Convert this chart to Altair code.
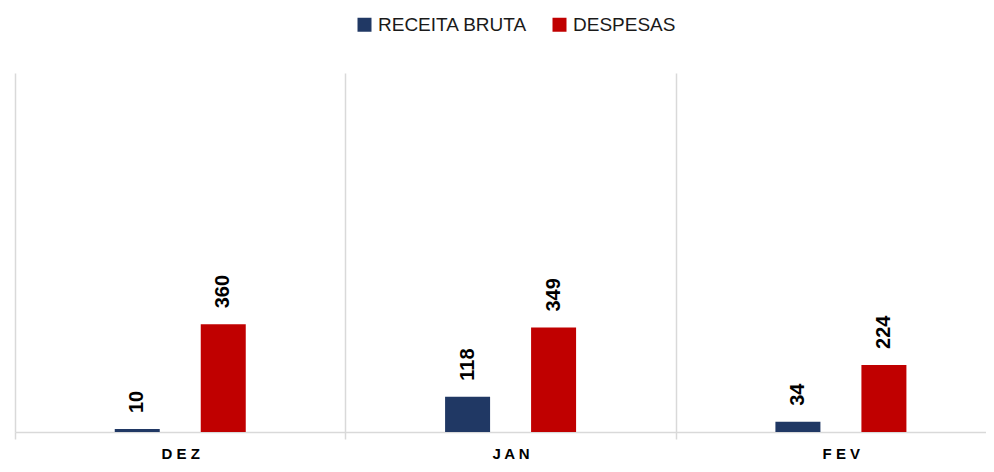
import altair as alt
import pandas as pd

months = ["DEZ", "JAN", "FEV"]
series = ["RECEITA BRUTA", "DESPESAS"]
receita = [10, 118, 34]
despesas = [360, 349, 224]
colors = ["#203864", "#C00000"]

rows = []
for i, m in enumerate(months):
    rows.append({"mes": m, "serie": series[0], "valor": receita[i]})
    rows.append({"mes": m, "serie": series[1], "valor": despesas[i]})
df = pd.DataFrame(rows)

x = alt.X(
    "mes:N", sort=months, title=None,
    scale=alt.Scale(range=[0, 991], paddingInner=0, paddingOuter=0),
    axis=alt.Axis(
        grid=True, tickBand="extent", gridColor="#d9d9d9", gridWidth=1.5,
        domainColor="#d9d9d9", domainWidth=1.5, tickColor="#d9d9d9",
        tickWidth=1.5, tickSize=7, labelAngle=0, labelFont="Liberation Sans",
        labelFontWeight="bold", labelFontSize=15, labelColor="#000000",
        labelPadding=7, labelExpr="join(split(datum.label, ''), ' ')",
    ),
)
xo = alt.XOffset("serie:N", sort=series,
                 scale=alt.Scale(domain=series, range=[99.75, 230.75],
                                 paddingInner=0.4767, paddingOuter=0))
y = alt.Y("valor:Q", scale=alt.Scale(domain=[0, 1200]), axis=None)
color = alt.Color(
    "serie:N",
    scale=alt.Scale(domain=series, range=colors),
    legend=alt.Legend(
        orient="none", legendX=340, legendY=-58, direction="horizontal", title=None,
        symbolType="square", symbolSize=196, symbolStrokeWidth=0,
        labelFont="Liberation Sans", labelFontSize=19, labelColor="#1a1a1a",
        labelOffset=4, columnPadding=22,
    ),
)

base = alt.Chart(df).encode(x=x, xOffset=xo, y=y)
bars = base.mark_bar().encode(color=color)
labels = base.mark_text(
    angle=270, align="left", baseline="middle", dx=16,
    font="Liberation Sans", fontWeight="bold", fontSize=20, color="#000000",
).encode(text=alt.Text("valor:Q", format="d"))

chart = (
    alt.layer(bars, labels)
    .properties(
        width=971, height=359,
        autosize=alt.AutoSizeParams(type="none"),
        padding={"left": 7, "top": 65, "right": 0, "bottom": 32},
        background="#ffffff",
    )
    .configure_view(stroke=None)
)

chart.save("out.html", embed_options={"renderer": "svg", "actions": False})
